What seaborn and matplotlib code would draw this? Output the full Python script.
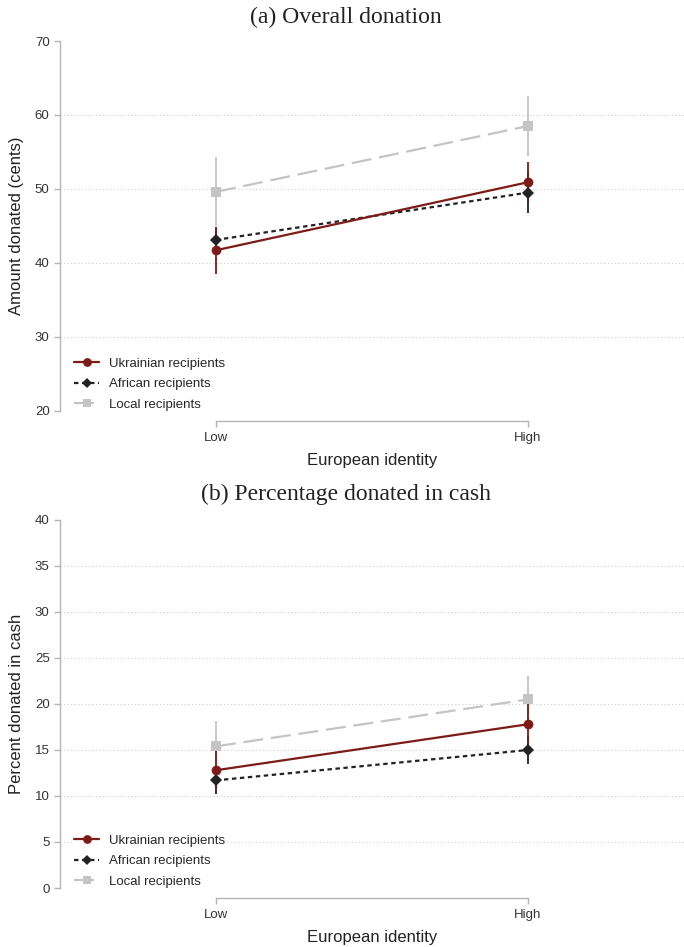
import numpy as np
import pandas as pd
import matplotlib
matplotlib.use("Agg")
import matplotlib.pyplot as plt
import seaborn as sns

# ---------------- data ----------------
groups = ["Ukrainian recipients", "African recipients", "Local recipients"]
levels = ["Low", "High"]

# (a) Overall donation (cents)
a_ukr = [41.7, 50.9]
a_afr = [43.1, 49.5]
a_loc = [49.6, 58.5]
a_ukr_lo = [38.5, 48.2]
a_ukr_hi = [44.9, 53.6]
a_afr_lo = [41.3, 46.8]
a_afr_hi = [44.9, 52.3]
a_loc_lo = [45.0, 54.5]
a_loc_hi = [54.3, 62.6]

# (b) Percentage donated in cash
b_ukr = [12.8, 17.8]
b_afr = [11.7, 15.0]
b_loc = [15.4, 20.5]
b_ukr_lo = [10.5, 15.4]
b_ukr_hi = [15.1, 20.2]
b_afr_lo = [10.2, 13.5]
b_afr_hi = [13.2, 16.5]
b_loc_lo = [12.8, 18.0]
b_loc_hi = [18.1, 23.0]

a_yticks = [20, 30, 40, 50, 60, 70]
b_yticks = [0, 5, 10, 15, 20, 25, 30, 35, 40]

# ---------------- style ----------------
sns.set_theme(style="ticks")
plt.rcParams['font.family'] = ['Liberation Sans', 'DejaVu Sans']

colors = {"Ukrainian recipients": "#7d1b17",
          "African recipients": "#222222",
          "Local recipients": "#c4c4c4"}
markers = {"Ukrainian recipients": "o",
           "African recipients": "D",
           "Local recipients": "s"}
msizes = {"Ukrainian recipients": 7.0,
          "African recipients": 5.8,
          "Local recipients": 6.8}
dashes = {"Ukrainian recipients": "",
          "African recipients": (2, 1.6),
          "Local recipients": (9, 3.5)}
zorders = {"Ukrainian recipients": 4.3,
           "African recipients": 4.2,
           "Local recipients": 4.1}
spine_col = "#b4b4b4"

W, H = 684, 947
fig = plt.figure(figsize=(W / 100, H / 100), dpi=100)
ax1 = fig.add_axes([60 / W, 1 - 410.7 / H, 624 / W, (410.7 - 41) / H])
ax2 = fig.add_axes([60 / W, 1 - 888 / H, 624 / W, (888 - 520) / H])


def panel(ax, means, lows, highs, yticks, ylabel):
    rows = []
    for g, m in zip(groups, means):
        for i, lev in enumerate(levels):
            rows.append({"x": i, "level": lev, "group": g, "value": m[i]})
    df = pd.DataFrame(rows)

    # gridlines (inner ticks only)
    for t in yticks[1:-1]:
        ax.axhline(t, color="#cfcfcf", lw=0.8, ls=(0, (1, 2.2)), zorder=0.5)

    # confidence intervals
    for g, lo, hi in zip(groups, lows, highs):
        ax.vlines([0, 1], lo, hi, color=colors[g], lw=1.3,
                  zorder=zorders[g] - 1)

    sns.lineplot(data=df, x="x", y="value", hue="group", style="group",
                 hue_order=groups, style_order=groups, palette=colors,
                 markers=markers, dashes=dashes, markersize=7,
                 markeredgewidth=0, linewidth=1.6, errorbar=None, ax=ax)

    for ln in ax.lines:
        for g in groups:
            if matplotlib.colors.same_color(ln.get_color(), colors[g]) and ln.get_marker() == markers[g]:
                ln.set_zorder(zorders[g])
                ln.set_markersize(msizes[g])

    handles, labels = ax.get_legend_handles_labels()
    hd = dict(zip(labels, handles))
    hs = [hd[g] for g in groups]
    for h, g in zip(hs, groups):
        h.set_markeredgewidth(0)
        h.set_markersize(msizes[g] * 0.9)
    leg = ax.legend(hs, groups, loc="lower left", bbox_to_anchor=(0.02, -0.005),
                    frameon=True, facecolor="white", edgecolor="none",
                    framealpha=1, fontsize=9.5, handlelength=1.85,
                    handletextpad=0.8, labelspacing=0.62, borderpad=0.15,
                    borderaxespad=0, fancybox=False)
    leg.set_zorder(6)

    ax.set_xlim(-0.5, 1.5)
    ax.set_ylim(yticks[0], yticks[-1])
    ax.set_xticks([0, 1], levels)
    ax.set_yticks(yticks)
    ax.set_xlabel("European identity", fontsize=12, labelpad=6.5, color="#222222")
    ax.set_ylabel(ylabel, fontsize=12, labelpad=8, color="#222222")

    sns.despine(ax=ax)
    ax.spines["bottom"].set_bounds(0, 1)
    ax.spines["bottom"].set_position(("outward", 7.5))
    for s in ("left", "bottom"):
        ax.spines[s].set_color(spine_col)
        ax.spines[s].set_linewidth(1.0)
    ax.tick_params(axis="both", which="major", length=4.5, width=1.0,
                   color=spine_col, labelsize=9.5, labelcolor="#333333",
                   pad=3, direction="out")
    ax.set_facecolor("white")


panel(ax1, [a_ukr, a_afr, a_loc], [a_ukr_lo, a_afr_lo, a_loc_lo],
      [a_ukr_hi, a_afr_hi, a_loc_hi], a_yticks, "Amount donated (cents)")
panel(ax2, [b_ukr, b_afr, b_loc], [b_ukr_lo, b_afr_lo, b_loc_lo],
      [b_ukr_hi, b_afr_hi, b_loc_hi], b_yticks, "Percent donated in cash")

fig.text(346 / W, 1 - 17 / H, "(a) Overall donation", ha="center", va="center",
         family="Liberation Serif", fontsize=17, color="#222222")
fig.text(346 / W, 1 - 494 / H, "(b) Percentage donated in cash", ha="center",
         va="center", family="Liberation Serif", fontsize=17, color="#222222")

fig.savefig("out.png", dpi=100, facecolor="white")
